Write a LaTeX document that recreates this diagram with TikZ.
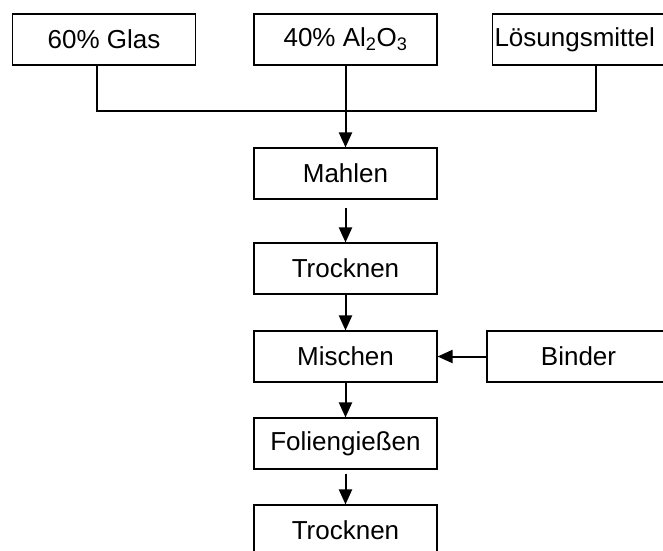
\documentclass[tikz,border=0pt]{standalone}
\usepackage{fontspec}
\setmainfont{Liberation Sans}
\usetikzlibrary{arrows.meta,positioning}

\begin{document}
\begin{tikzpicture}[x=1pt, y=-1pt,
  stepbox/.style={draw, line width=1.1pt, minimum width=183pt, minimum height=51pt,
    inner sep=2pt, font=\fontsize{26}{31}\selectfont},
  flow/.style={line width=2pt},
  arr/.style={flow, -{Triangle[length=15pt, width=13pt]}}]
  \useasboundingbox (0,0) rectangle (663,550);
  \clip (0,0) rectangle (663,550);

  % Raw materials
  \node[stepbox] (glas) at (104, 39.5) {60\% Glas};
  \node[stepbox] (alox) at (345.5, 39.5) {40\% Al\textsubscript{2}O\textsubscript{3}};
  \node[stepbox, text width=179pt, align=left] (loesung) at (584, 39.5) {Lösungsmittel};

  % Process chain
  \node[stepbox] (mahlen) at (345.5, 173.5) {Mahlen};
  \node[stepbox] (trocknenA) at (345.5, 268.5) {Trocknen};
  \node[stepbox] (mischen) at (345.5, 356.5) {Mischen};
  \node[stepbox] (folie) at (345.5, 443.5) {Foliengießen};
  \node[stepbox] (trocknenB) at (345.5, 530.5) {Trocknen};
  \node[stepbox] (binder) at (578.5, 356.5) {Binder};

  % Merging the raw materials
  \coordinate (merge) at (345.5, 111);
  \draw[flow] ([xshift=-7pt]glas.south) |- (merge) -| ([xshift=12pt]loesung.south);
  \draw[flow] (alox.south) -- (merge);
  \draw[arr] (merge) -- (mahlen.north);

  % Arrows
  \draw[arr, shorten <=8pt] (mahlen) -- (trocknenA);
  \draw[arr] (trocknenA) -- (mischen);
  \draw[arr] (binder) -- (mischen);
  \draw[arr] (mischen) -- (folie);
  \draw[arr, shorten <=4pt] (folie) -- (trocknenB);
\end{tikzpicture}
\end{document}
